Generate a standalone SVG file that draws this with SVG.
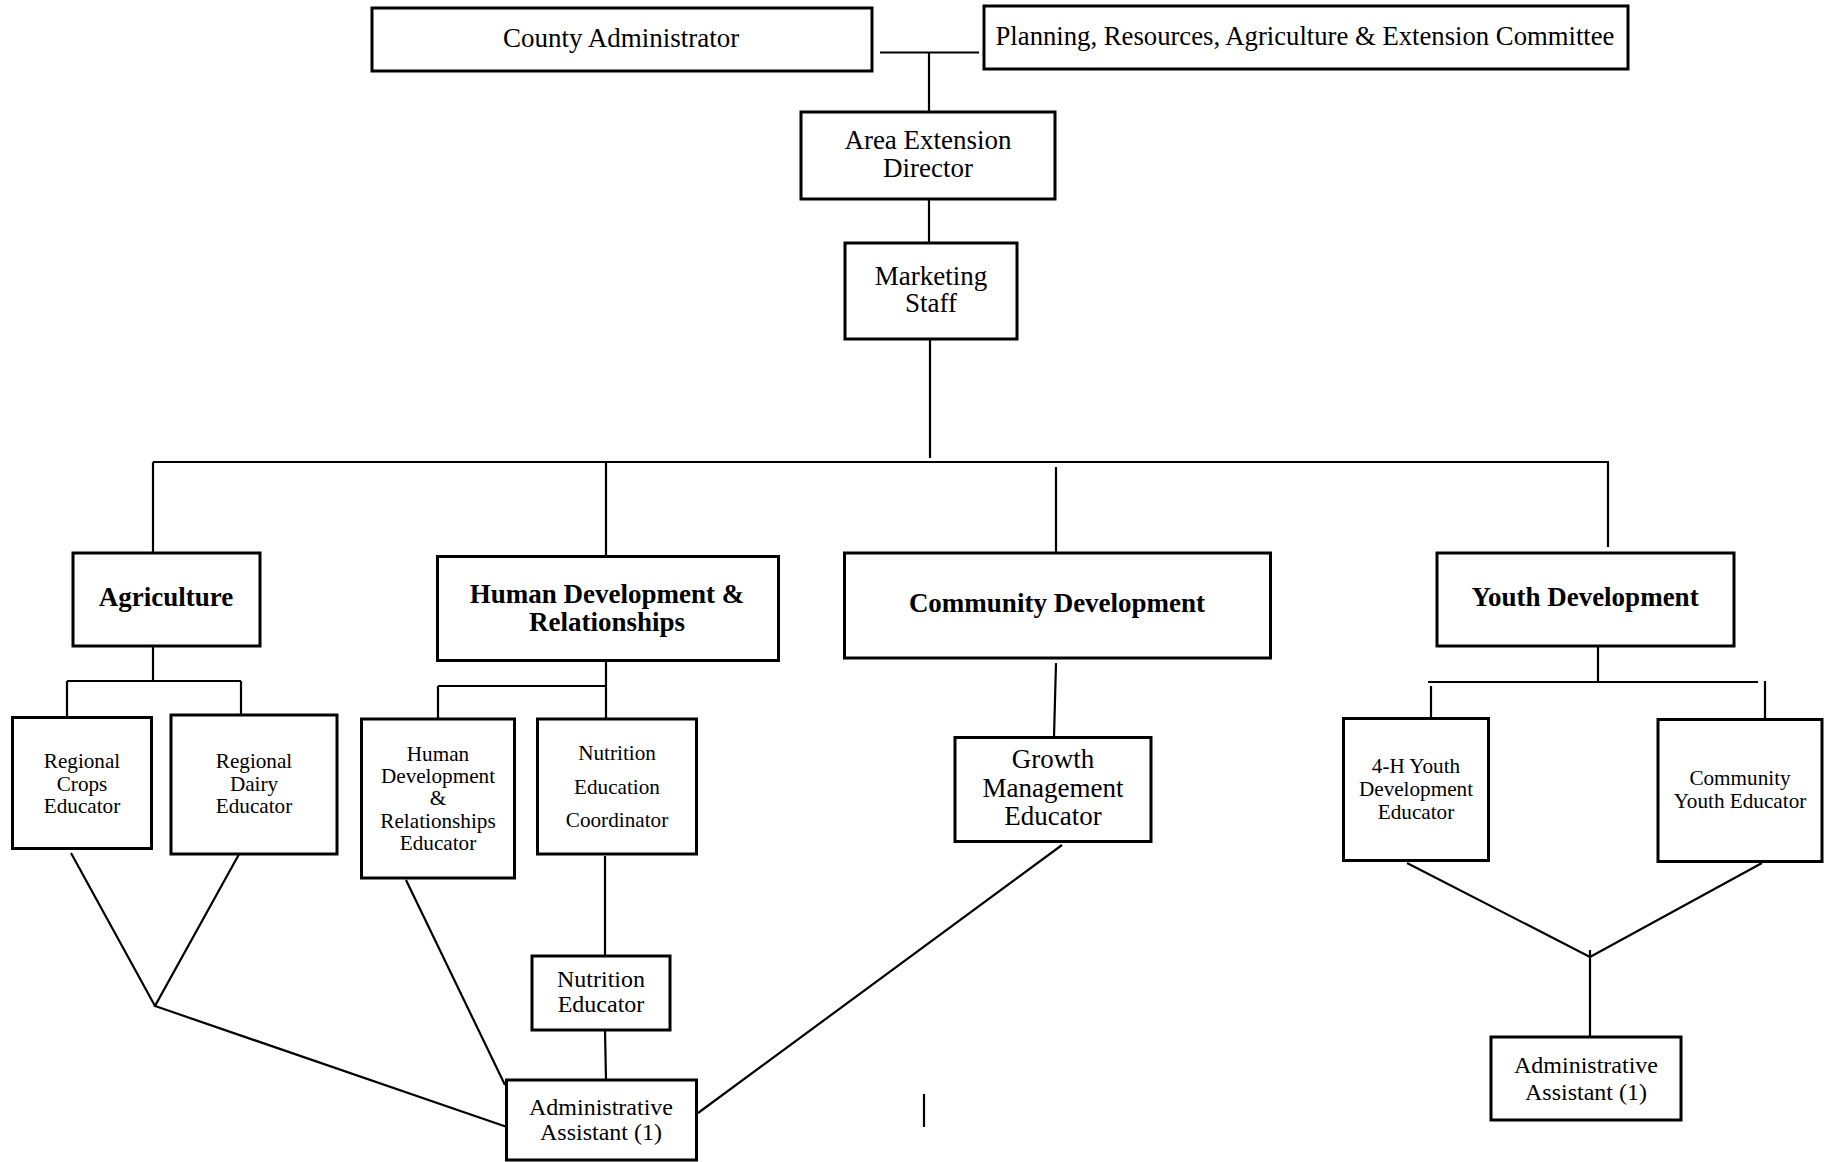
<svg xmlns="http://www.w3.org/2000/svg" width="1831" height="1162" viewBox="0 0 1831 1162">
<style>
.box{fill:#fff;stroke:#000;stroke-width:3}
.ln{fill:none;stroke:#000;stroke-width:2.2}
text{font-family:"Liberation Serif","Times New Roman",serif;fill:#000;text-anchor:middle}
.t26{font-size:27px}
.t25{font-size:26.7px}
.t24{font-size:24px}
.t21{font-size:21.2px}
.b{font-size:27px;font-weight:bold}
</style>
<rect width="1831" height="1162" fill="#fff"/>
<g id="connectors">
<path class="ln" d="M880 52.5H979M929 52.5V112M929 199V243M930 339V458"/>
<path class="ln" d="M153 462H1609M153 462V552M606 462V556M1056 467V553M1608 462V547"/>
<path class="ln" d="M153 646V681M67 681H241M67 681V717M241 681V715"/>
<path class="ln" d="M606 661V719M438 686H606M438 686V719"/>
<path class="ln" d="M1056 663L1054 737"/>
<path class="ln" d="M1598 647V682M1428 682H1758M1431 686V718M1765 681V719"/>
<path class="ln" d="M71 853L155 1006M243 847L155 1006L507 1127"/>
<path class="ln" d="M406 880L505 1085"/>
<path class="ln" d="M605 856V956M605 1030L606 1080"/>
<path class="ln" d="M1062 845L698 1113"/>
<path class="ln" d="M924 1094V1127"/>
<path class="ln" d="M1407 863L1590 957L1762 863M1590 950V1036"/>
</g>
<g id="county-admin"><rect class="box" x="372" y="8" width="500" height="63"/><text class="t26" x="621" y="47">County Administrator</text></g>
<g id="planning-committee"><rect class="box" x="984" y="6" width="644" height="63"/><text class="t25" x="1305" y="45">Planning, Resources, Agriculture &amp; Extension Committee</text></g>
<g id="area-director"><rect class="box" x="801" y="112" width="254" height="87"/><text class="t26" x="928" y="149">Area Extension</text><text class="t26" x="928" y="177">Director</text></g>
<g id="marketing"><rect class="box" x="845" y="243" width="172" height="96"/><text class="t26" x="931" y="285">Marketing</text><text class="t26" x="931" y="312">Staff</text></g>
<g id="agriculture"><rect class="box" x="73" y="553" width="187" height="93"/><text class="b" x="166" y="606">Agriculture</text></g>
<g id="human-dev"><rect class="box" x="437.5" y="556.5" width="341" height="104"/><text class="b" x="607" y="603">Human Development &amp;</text><text class="b" x="607" y="631">Relationships</text></g>
<g id="community-dev"><rect class="box" x="844.5" y="553" width="426" height="105"/><text class="b" x="1057" y="612">Community Development</text></g>
<g id="youth-dev"><rect class="box" x="1437" y="553" width="297" height="93"/><text class="b" x="1585" y="606">Youth Development</text></g>
<g id="regional-crops"><rect class="box" x="12.5" y="717.5" width="139" height="131"/><text class="t21" x="82" y="768">Regional</text><text class="t21" x="82" y="790.5">Crops</text><text class="t21" x="82" y="813">Educator</text></g>
<g id="regional-dairy"><rect class="box" x="171" y="715" width="166" height="139"/><text class="t21" x="254" y="768">Regional</text><text class="t21" x="254" y="790.5">Dairy</text><text class="t21" x="254" y="813">Educator</text></g>
<g id="hd-educator"><rect class="box" x="361.5" y="719" width="153" height="159"/><text class="t21" x="438" y="761">Human</text><text class="t21" x="438" y="783">Development</text><text class="t21" x="438" y="805">&amp;</text><text class="t21" x="438" y="828">Relationships</text><text class="t21" x="438" y="850">Educator</text></g>
<g id="nutrition-coordinator"><rect class="box" x="537.5" y="719" width="159" height="135"/><text class="t21" x="617" y="760">Nutrition</text><text class="t21" x="617" y="793.5">Education</text><text class="t21" x="617" y="827">Coordinator</text></g>
<g id="growth-educator"><rect class="box" x="955" y="737.5" width="196" height="104"/><text class="t26" x="1053" y="768">Growth</text><text class="t26" x="1053" y="797">Management</text><text class="t26" x="1053" y="825">Educator</text></g>
<g id="4h-educator"><rect class="box" x="1343.5" y="718.5" width="145" height="142"/><text class="t21" x="1416" y="773">4-H Youth</text><text class="t21" x="1416" y="796">Development</text><text class="t21" x="1416" y="818.5">Educator</text></g>
<g id="community-youth"><rect class="box" x="1658" y="719.5" width="164" height="142"/><text class="t21" x="1740" y="785">Community</text><text class="t21" x="1740" y="807.5">Youth Educator</text></g>
<g id="nutrition-educator"><rect class="box" x="532" y="956" width="138" height="74"/><text class="t24" x="601" y="987">Nutrition</text><text class="t24" x="601" y="1012">Educator</text></g>
<g id="admin-assistant-1"><rect class="box" x="506.5" y="1080" width="190" height="80"/><text class="t24" x="601" y="1115">Administrative</text><text class="t24" x="601" y="1140">Assistant (1)</text></g>
<g id="admin-assistant-2"><rect class="box" x="1491" y="1037" width="190" height="83"/><text class="t24" x="1586" y="1073">Administrative</text><text class="t24" x="1586" y="1100">Assistant (1)</text></g>
</svg>
